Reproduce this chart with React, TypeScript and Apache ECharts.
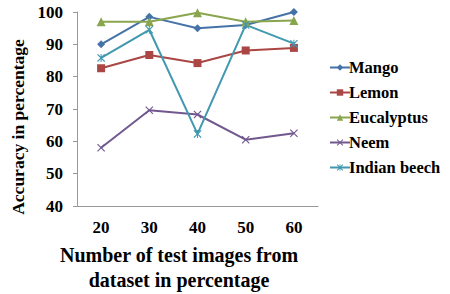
import React, { useEffect, useRef } from "react";
import * as echarts from "echarts";

const categories = ["20", "30", "40", "50", "60"];
const mango = [90, 98.5, 95, 96, 100];
const lemon = [82.6, 86.7, 84.2, 88.1, 88.9];
const eucalyptus = [97, 97, 99.8, 97, 97.4];
const neem = [58, 69.6, 68.3, 60.5, 62.5];
const indianBeech = [85.8, 94.5, 62.3, 96, 90.2];
const seriesNames = ["Mango", "Lemon", "Eucalyptus", "Neem", "Indian beech"];

const xSym = "path://M0,1L1,0L5,4L9,0L10,1L6,5L10,9L9,10L5,6L1,10L0,9L4,5Z";
const starSym =
  "path://M0,1L1,0L5,4L9,0L10,1L6,5L10,9L9,10L5,6L1,10L0,9L4,5Z M4.4,0L5.6,0L5.6,10L4.4,10Z";

const font = "Liberation Serif";

export default function App() {
  const ref = useRef<HTMLDivElement>(null);
  useEffect(() => {
    const chart = echarts.init(ref.current!, null, { renderer: "svg" });
    const mk = (name: string, data: number[], color: string, symbol: string, size: number) => ({
      name,
      type: "line",
      data,
      symbol,
      symbolSize: size,
      itemStyle: { color },
      lineStyle: { color, width: 2 },
    });
    chart.setOption({
      animation: false,
      backgroundColor: "#fff",
      textStyle: { fontFamily: font },
      grid: { left: 77, right: 132, top: 12, bottom: 88 },
      legend: {
        orient: "vertical",
        left: 324,
        top: 54,
        itemWidth: 20,
        itemHeight: 8,
        itemGap: 8,
        data: seriesNames,
        textStyle: { fontFamily: font, fontWeight: "bold", fontSize: 16.5, color: "#000", padding: [0, 0, 0, -6] },
      },
      xAxis: {
        type: "category",
        data: categories,
        boundaryGap: true,
        axisLine: { lineStyle: { color: "#999" } },
        axisTick: { lineStyle: { color: "#999" }, length: 4 },
        axisLabel: { fontFamily: font, fontWeight: "bold", fontSize: 17, color: "#000", margin: 13 },
      },
      yAxis: {
        type: "value",
        min: 40,
        max: 100,
        interval: 10,
        splitLine: { show: false },
        axisLine: { show: true, lineStyle: { color: "#999" } },
        axisTick: { show: true, length: 4, lineStyle: { color: "#999" } },
        axisLabel: { fontFamily: font, fontWeight: "bold", fontSize: 17, color: "#000", margin: 14 },
        name: "Accuracy in percentage",
        nameLocation: "middle",
        nameGap: 48,
        nameTextStyle: { fontFamily: font, fontWeight: "bold", fontSize: 17.5, color: "#000", padding: [0, 0, 0, -36] },
      },
      graphic: [
        {
          type: "text",
          x: 179,
          y: 242,
          style: {
            text: "Number of test images from\ndataset in percentage",
            fontFamily: font,
            fontWeight: "bold",
            fontSize: 20,
            fill: "#000",
            align: "center",
            lineHeight: 25,
          },
        },
      ],
      series: [
        mk(seriesNames[0], mango, "#4572A7", "diamond", 8),
        mk(seriesNames[1], lemon, "#AA4643", "rect", 8),
        mk(seriesNames[2], eucalyptus, "#89A54E", "triangle", 9),
        mk(seriesNames[3], neem, "#71588F", xSym, 8),
        mk(seriesNames[4], indianBeech, "#4198AF", starSym, 8),
      ],
    });
    return () => chart.dispose();
  }, []);
  return <div ref={ref} style={{ width: 450, height: 294, position: "absolute", left: 0, top: 0 }} />;
}
